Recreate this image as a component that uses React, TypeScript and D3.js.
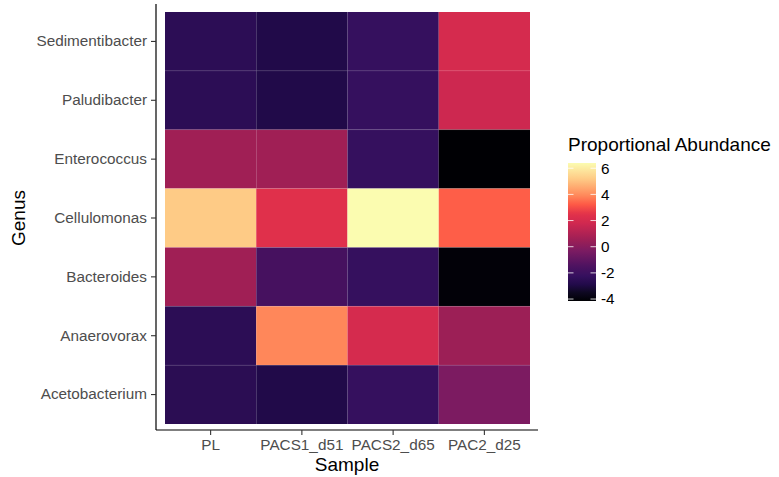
import React, { useEffect, useRef } from 'react';
import * as d3 from 'd3';

const samples = ['PL', 'PACS1_d51', 'PACS2_d65', 'PAC2_d25'];
const genera = ['Sedimentibacter', 'Paludibacter', 'Enterococcus', 'Cellulomonas', 'Bacteroides', 'Anaerovorax', 'Acetobacterium'];

// one row per genus, columns follow samples
const sedimentibacter = [-2.55, -2.9, -2.25, 2.0];
const paludibacter = [-2.55, -2.9, -2.25, 1.7];
const enterococcus = [0.6, 0.6, -2.25, -4.15];
const cellulomonas = [5.2, 2.4, 6.4, 3.3];
const bacteroides = [0.6, -1.7, -2.25, -4.05];
const anaerovorax = [-2.55, 3.9, 2.0, 0.5];
const acetobacterium = [-2.6, -2.9, -2.25, -0.3];

const legendTicks = [-4, -2, 0, 2, 4, 6];

const rows = [sedimentibacter, paludibacter, enterococcus, cellulomonas, bacteroides, anaerovorax, acetobacterium];

// magma-like ramp as it appears in the picture (a bit redder than d3's magma)
const rampStops = [0, 0.06, 0.12, 0.18, 0.25, 0.36, 0.45, 0.56, 0.63, 0.7, 0.77, 0.88, 1];
const rampColors = ['#000004', '#0d0820', '#220a4a', '#35105e', '#4c1260', '#7a1b62', '#a01f55', '#cf2850', '#e2314a', '#fe5a46', '#ff8c5c', '#fec884', '#fbfcb0'];

export default function App() {
  const ref = useRef<SVGSVGElement>(null);

  useEffect(() => {
    const svg = d3.select(ref.current);
    svg.selectAll('*').remove();

    const cells = [];
    rows.forEach((vals, r) => {
      vals.forEach((v, c) => cells.push({ genus: genera[r], sample: samples[c], value: v }));
    });

    const allVals = cells.map((d) => d.value);
    const vmin = d3.min(allVals);
    const vmax = d3.max(allVals);
    const color = d3
      .scaleLinear<string>()
      .domain(rampStops.map((t) => vmin + t * (vmax - vmin)))
      .range(rampColors)
      .interpolate(d3.interpolateRgb)
      .clamp(true);

    const x = d3.scaleBand().domain(samples).range([165, 530]);
    const y = d3.scaleBand().domain(genera).range([12, 424]);

    const font = 'Liberation Sans, Arial, Helvetica, sans-serif';

    svg
      .append('g')
      .selectAll('rect')
      .data(cells)
      .join('rect')
      .attr('x', (d) => x(d.sample))
      .attr('y', (d) => y(d.genus))
      .attr('width', x.bandwidth())
      .attr('height', y.bandwidth())
      .attr('fill', (d) => color(d.value));

    // faint seams between rows, as in the picture
    svg
      .append('g')
      .selectAll('line')
      .data(genera.slice(1))
      .join('line')
      .attr('x1', 165)
      .attr('x2', 530)
      .attr('y1', (d) => y(d))
      .attr('y2', (d) => y(d))
      .attr('stroke', 'rgba(255,255,255,0.12)')
      .attr('stroke-width', 0.8);

    // axes
    const xAxis = svg
      .append('g')
      .attr('transform', 'translate(0,430)')
      .call(d3.axisBottom(x).tickSize(5).tickPadding(4).tickSizeOuter(0));
    xAxis.select('.domain').attr('d', 'M156,0H538').attr('stroke', '#000').attr('stroke-width', 1.2);
    xAxis.selectAll('.tick line').attr('stroke', '#333').attr('stroke-width', 1.1);
    xAxis
      .selectAll('.tick text')
      .attr('fill', '#4d4d4d')
      .style('font-family', font)
      .style('font-size', '15.3px');

    const yAxis = svg
      .append('g')
      .attr('transform', 'translate(156,0)')
      .call(d3.axisLeft(y).tickSize(5).tickPadding(4).tickSizeOuter(0));
    yAxis.select('.domain').attr('d', 'M0,4V430').attr('stroke', '#000').attr('stroke-width', 1.2);
    yAxis.selectAll('.tick line').attr('stroke', '#333').attr('stroke-width', 1.1);
    yAxis
      .selectAll('.tick text')
      .attr('fill', '#4d4d4d')
      .style('font-family', font)
      .style('font-size', '15.3px');

    svg
      .append('text')
      .attr('x', 347)
      .attr('y', 471)
      .attr('text-anchor', 'middle')
      .style('font-family', font)
      .style('font-size', '19px')
      .text('Sample');

    svg
      .append('text')
      .attr('transform', 'translate(25,218) rotate(-90)')
      .attr('text-anchor', 'middle')
      .style('font-family', font)
      .style('font-size', '19px')
      .text('Genus');

    // legend
    const lx = 568;
    const lw = 28;
    const ly = d3.scaleLinear().domain([vmin, vmax]).range([301, 163]);

    const grad = svg
      .append('defs')
      .append('linearGradient')
      .attr('id', 'ramp-grad')
      .attr('x1', 0)
      .attr('x2', 0)
      .attr('y1', 1)
      .attr('y2', 0);
    d3.range(0, 1.0001, 0.02).forEach((t) => {
      grad
        .append('stop')
        .attr('offset', t)
        .attr('stop-color', color(vmin + t * (vmax - vmin)));
    });

    svg
      .append('rect')
      .attr('x', lx)
      .attr('y', 163)
      .attr('width', lw)
      .attr('height', 301 - 163)
      .attr('fill', 'url(#ramp-grad)');

    const lt = svg.append('g');
    lt.selectAll('line.l')
      .data(legendTicks)
      .join('line')
      .attr('class', 'l')
      .attr('x1', lx)
      .attr('x2', lx + 5.5)
      .attr('y1', (d) => ly(d))
      .attr('y2', (d) => ly(d))
      .attr('stroke', '#fff')
      .attr('stroke-width', 0.8);
    lt.selectAll('line.r')
      .data(legendTicks)
      .join('line')
      .attr('class', 'r')
      .attr('x1', lx + lw - 5.5)
      .attr('x2', lx + lw)
      .attr('y1', (d) => ly(d))
      .attr('y2', (d) => ly(d))
      .attr('stroke', '#fff')
      .attr('stroke-width', 0.8);
    lt.selectAll('text')
      .data(legendTicks)
      .join('text')
      .attr('x', lx + lw + 5)
      .attr('y', (d) => ly(d))
      .attr('dy', '0.35em')
      .style('font-family', font)
      .style('font-size', '15.3px')
      .text((d) => d);

    svg
      .append('text')
      .attr('x', lx)
      .attr('y', 151)
      .style('font-family', font)
      .style('font-size', '19px')
      .text('Proportional Abundance');
  }, []);

  return (
    <svg
      ref={ref}
      width={779}
      height={477}
      style={{ position: 'absolute', left: 0, top: 0, background: '#fff' }}
    />
  );
}
